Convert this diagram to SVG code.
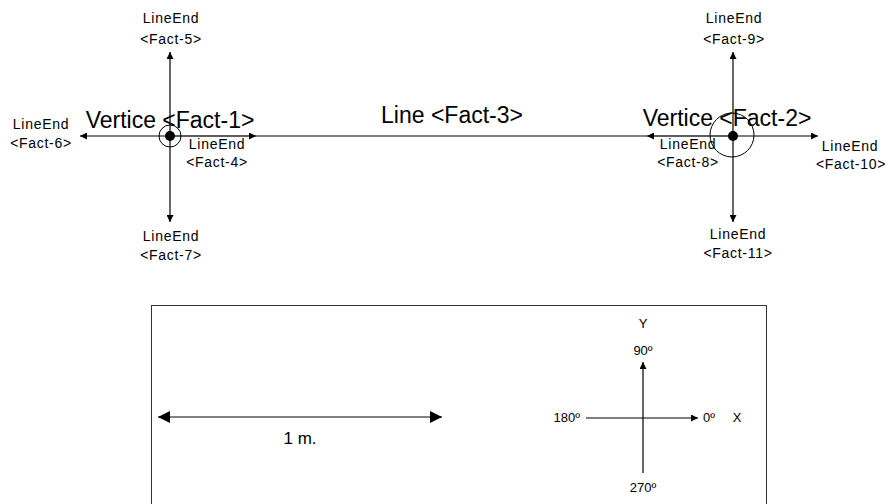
<svg xmlns="http://www.w3.org/2000/svg" width="887" height="504" viewBox="0 0 887 504">
<style>
text{font-family:"Liberation Sans",Arial,sans-serif;fill:#000;text-anchor:middle}
.s{font-size:14px;letter-spacing:0.7px}
.b{font-size:23px}
.m{font-size:13px}
.h{stroke:#555;stroke-width:1.3;fill:none}
.v{stroke:#000;stroke-width:1.2;fill:none}
</style>
<defs>
<marker id="a" viewBox="0 0 10 10" refX="10" refY="5" markerWidth="9" markerHeight="7" markerUnits="userSpaceOnUse" orient="auto"><path d="M0,0L10,5L0,10z" fill="#000"/></marker>
<marker id="big" viewBox="0 0 10 10" refX="10" refY="5" markerWidth="13" markerHeight="12" markerUnits="userSpaceOnUse" orient="auto-start-reverse"><path d="M0,0L10,5L0,10z" fill="#000"/></marker>
</defs>
<g id="connectors">
<line id="line-fact3" class="h" x1="170" y1="136" x2="732" y2="136"/>
<line class="h" x1="170" y1="136" x2="80" y2="136" marker-end="url(#a)"/>
<line class="h" x1="170" y1="136" x2="256" y2="136" marker-end="url(#a)"/>
<line class="v" x1="170" y1="136" x2="170" y2="52" marker-end="url(#a)"/>
<line class="v" x1="170" y1="136" x2="170" y2="222" marker-end="url(#a)"/>
<line class="h" x1="732" y1="136" x2="647" y2="136" marker-end="url(#a)"/>
<line class="h" x1="732" y1="136" x2="818" y2="136" marker-end="url(#a)"/>
<line class="v" x1="733" y1="136" x2="733" y2="52" marker-end="url(#a)"/>
<line class="v" x1="733" y1="136" x2="733" y2="222" marker-end="url(#a)"/>
</g>
<g id="vertex-fact1">
<circle cx="170" cy="136" r="11" fill="none" stroke="#000" stroke-width="1"/>
<circle cx="170" cy="136" r="5" fill="#000"/>
<text class="b" x="170" y="128">Vertice &lt;Fact-1&gt;</text>
</g>
<g id="vertex-fact2">
<circle cx="732" cy="135" r="22" fill="none" stroke="#000" stroke-width="1"/>
<circle cx="733" cy="136" r="5" fill="#000"/>
<text class="b" x="727" y="126">Vertice &lt;Fact-2&gt;</text>
</g>
<g id="line-label"><text class="b" x="452" y="123">Line &lt;Fact-3&gt;</text></g>
<g id="fact5"><text class="s" x="171" y="23">LineEnd</text><text class="s" x="171" y="44">&lt;Fact-5&gt;</text></g>
<g id="fact6"><text class="s" x="41" y="129">LineEnd</text><text class="s" x="41" y="148">&lt;Fact-6&gt;</text></g>
<g id="fact4"><text class="s" x="217" y="149">LineEnd</text><text class="s" x="217" y="167">&lt;Fact-4&gt;</text></g>
<g id="fact7"><text class="s" x="171" y="241">LineEnd</text><text class="s" x="171" y="260">&lt;Fact-7&gt;</text></g>
<g id="fact9"><text class="s" x="734" y="23">LineEnd</text><text class="s" x="734" y="44">&lt;Fact-9&gt;</text></g>
<g id="fact8"><text class="s" x="688" y="149">LineEnd</text><text class="s" x="688" y="167">&lt;Fact-8&gt;</text></g>
<g id="fact10"><text class="s" x="850" y="151">LineEnd</text><text class="s" x="851" y="169">&lt;Fact-10&gt;</text></g>
<g id="fact11"><text class="s" x="738" y="239">LineEnd</text><text class="s" x="738" y="258">&lt;Fact-11&gt;</text></g>
<g id="legend">
<rect x="151.5" y="305.5" width="615" height="210" fill="none" stroke="#333" stroke-width="1"/>
<line x1="158" y1="417" x2="442" y2="417" stroke="#000" stroke-width="1.2" marker-start="url(#big)" marker-end="url(#big)"/>
<text x="300" y="444" style="font-size:17px">1 m.</text>
<line class="v" x1="643" y1="473" x2="643" y2="362" marker-end="url(#a)"/>
<line class="v" x1="586" y1="418" x2="698" y2="418" marker-end="url(#a)"/>
<text class="m" x="643" y="328">Y</text>
<text class="m" x="643" y="355">90º</text>
<text class="m" x="580" y="422" style="text-anchor:end">180º</text>
<text class="m" x="703" y="422" style="text-anchor:start">0º</text>
<text class="m" x="737" y="422">X</text>
<text class="m" x="643" y="492">270º</text>
</g>
</svg>
